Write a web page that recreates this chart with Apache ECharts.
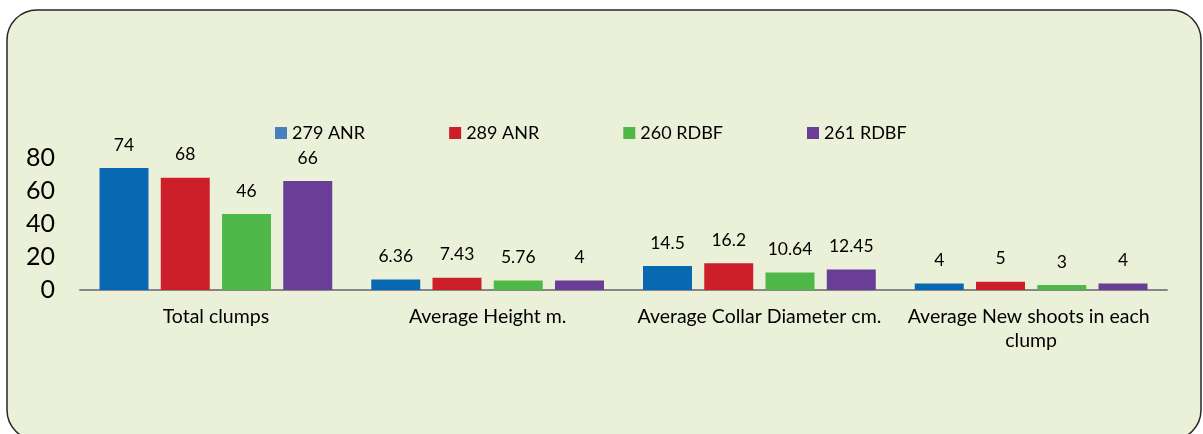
<!DOCTYPE html>
<html>
<head>
<meta charset="utf-8">
<script src="https://cdn.jsdelivr.net/npm/echarts@6/dist/echarts.min.js"></script>
<style>
  html, body { margin: 0; padding: 0; background: #fff; }
  #main { width: 1203px; height: 434px; }
</style>
</head>
<body>
<div id="main"></div>
<script>
// categories on the x axis
var categories = ['Total clumps', 'Average Height m.', 'Average Collar Diameter cm.', 'Average New shoots in each clump'];
var seriesNames = ['279 ANR', '289 ANR', '260 RDBF', '261 RDBF'];
// bar heights as drawn
var anr279 = [74, 6.36, 14.5, 4];
var anr289 = [68, 7.43, 16.2, 5];
var rdbf260 = [46, 5.76, 10.64, 3];
var rdbf261 = [66, 5.7, 12.45, 4];
// text printed above each bar (the 261 RDBF height bar says 4 though it is drawn ~5.7)
var labels279 = ['74', '6.36', '14.5', '4'];
var labels289 = ['68', '7.43', '16.2', '5'];
var labels260 = ['46', '5.76', '10.64', '3'];
var labels261 = ['66', '4', '12.45', '4'];
var yTicks = [0, 20, 40, 60, 80];

var colors = ['#0868B1', '#CD1F2A', '#50B848', '#6A3D96'];
var legendColors = ['#4A80C2', '#CD1F2A', '#50B848', '#6A3D96'];
var font = 'Lato, "Open Sans", sans-serif';

function mkSeries(i, values, texts) {
    return {
        name: seriesNames[i],
        type: 'bar',
        data: values,
        barWidth: 49,
        barGap: '25%',
        itemStyle: { color: colors[i] },
        label: {
            show: true,
            position: 'top',
            distance: 14,
            color: '#000',
            fontFamily: font,
            fontSize: 17.5,
            formatter: function (p) { return texts[p.dataIndex]; }
        }
    };
}

var chart = echarts.init(document.getElementById('main'));
chart.setOption({
    animation: false,
    backgroundColor: '#fff',
    graphic: [{
        type: 'rect',
        z: -10,
        silent: true,
        shape: { x: 7, y: 10, width: 1194, height: 430, r: 30 },
        style: { fill: '#EBF1D8', stroke: '#262626', lineWidth: 1.5 }
    }],
    legend: {
        left: 270,
        top: 119,
        itemWidth: 12,
        itemHeight: 12,
        itemGap: 84,
        icon: 'rect',
        textStyle: { color: '#000', fontFamily: font, fontSize: 18 },
        data: seriesNames.map(function (n, i) {
            return { name: n, itemStyle: { color: legendColors[i] } };
        })
    },
    grid: { left: 80, right: 36, top: 158, bottom: 144 },
    xAxis: {
        type: 'category',
        data: categories,
        axisLine: { lineStyle: { color: '#868686', width: 2 } },
        axisTick: { show: false },
        axisLabel: {
            color: '#000',
            fontFamily: font,
            fontSize: 19.5,
            margin: 15,
            lineHeight: 24,
            width: 256,
            overflow: 'break',
            interval: 0
        }
    },
    yAxis: {
        type: 'value',
        min: yTicks[0],
        max: yTicks[yTicks.length - 1],
        interval: 20,
        splitLine: { show: false },
        axisLine: { show: false },
        axisTick: { show: false },
        axisLabel: { color: '#000', fontFamily: font, fontSize: 25, margin: 25 }
    },
    series: [
        mkSeries(0, anr279, labels279),
        mkSeries(1, anr289, labels289),
        mkSeries(2, rdbf260, labels260),
        mkSeries(3, rdbf261, labels261)
    ]
});
</script>
</body>
</html>
